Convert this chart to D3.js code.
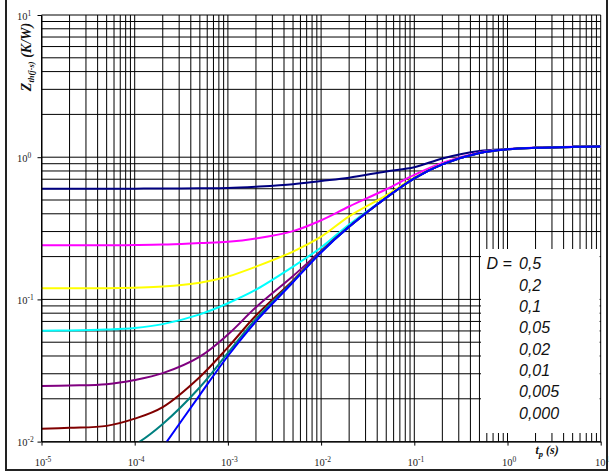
<!DOCTYPE html>
<html>
<head>
<meta charset="utf-8">
<script src="https://cdn.jsdelivr.net/npm/d3@7"></script>
<style>
  html, body { margin: 0; padding: 0; background: #fff; }
  svg { display: block; }
</style>
</head>
<body>
<svg id="chart" width="610" height="473"></svg>
<script>
// Pulse duration t_p (s)
const tp = [1e-5, 2e-5, 5e-5, 1e-4, 2e-4, 5e-4, 1e-3, 2e-3, 5e-3, 1e-2, 2e-2, 5e-2, 0.1, 0.2, 0.5, 1, 2, 5, 10];

// Transient thermal impedance Z_th(j-s) (K/W), one array per duty cycle D
const zD0500 = [0.600, 0.600, 0.600, 0.601, 0.602, 0.604, 0.607, 0.620, 0.645, 0.680, 0.718, 0.794, 0.850, 0.980, 1.105, 1.140, 1.166, 1.182, 1.188];
const zD0200 = [0.240, 0.240, 0.240, 0.241, 0.243, 0.249, 0.254, 0.268, 0.302, 0.360, 0.450, 0.595, 0.750, 0.910, 1.080, 1.138, 1.165, 1.182, 1.188];
const zD0100 = [0.120, 0.120, 0.120, 0.121, 0.123, 0.131, 0.145, 0.170, 0.217, 0.276, 0.384, 0.539, 0.717, 0.893, 1.072, 1.137, 1.165, 1.182, 1.188];
const zD0050 = [0.0603, 0.0605, 0.0614, 0.0630, 0.0670, 0.0785, 0.094, 0.117, 0.170, 0.232, 0.336, 0.521, 0.711, 0.891, 1.071, 1.137, 1.165, 1.182, 1.188];
const zD0020 = [0.0246, 0.0248, 0.0253, 0.0271, 0.0303, 0.0396, 0.0566, 0.088, 0.146, 0.220, 0.327, 0.520, 0.710, 0.890, 1.070, 1.137, 1.165, 1.182, 1.188];
const zD0010 = [0.0123, 0.0125, 0.0129, 0.0145, 0.0175, 0.0285, 0.046, 0.077, 0.136, 0.217, 0.325, 0.519, 0.710, 0.890, 1.070, 1.137, 1.165, 1.182, 1.188];
const zD0005 = [0.0063, 0.0067, 0.0078, 0.0095, 0.0133, 0.0241, 0.042, 0.073, 0.134, 0.216, 0.325, 0.519, 0.710, 0.890, 1.070, 1.137, 1.165, 1.182, 1.188];
const zD0000 = [0.0005, 0.0010, 0.0025, 0.0048, 0.0091, 0.0213, 0.040, 0.070, 0.132, 0.214, 0.324, 0.519, 0.710, 0.890, 1.070, 1.137, 1.165, 1.182, 1.188];

// Duty-cycle legend labels
const dutyLabels = ["0,5", "0,2", "0,1", "0,05", "0,02", "0,01", "0,005", "0,000"];

// Axis ticks (decades)
const xTicks = [1e-5, 1e-4, 1e-3, 1e-2, 1e-1, 1, 10];
const xTickExp = ["-5", "-4", "-3", "-2", "-1", "0", "1"];
const yTicks = [1e-2, 1e-1, 1, 10];
const yTickExp = ["-2", "-1", "0", "1"];

const seriesValues = [zD0500, zD0200, zD0100, zD0050, zD0020, zD0010, zD0005, zD0000];
const seriesColors = ["#000080", "#ff00ff", "#ffff00", "#00ffff", "#800080", "#800000", "#008080", "#0000ff"];

const svg = d3.select("#chart");
const L = 41.5, R = 600.7, T = 15, B = 441.6;

const x = d3.scaleLog().domain([1e-5, 10]).range([L, R]);
const y = d3.scaleLog().domain([0.01, 10]).range([B, T]);

// outer frame
svg.append("rect")
  .attr("x", 6).attr("y", -2).attr("width", 601).attr("height", 472)
  .attr("fill", "none").attr("stroke", "#222").attr("stroke-width", 2);

// log grid (all 1..9 multiples of each decade)
function logGridValues(lo, hi) {
  const out = [];
  for (let e = lo; e < hi; e++) {
    for (let m = 1; m <= 9; m++) out.push(m * Math.pow(10, e));
  }
  out.push(Math.pow(10, hi));
  return out;
}
const grid = svg.append("g").attr("stroke", "#000").attr("stroke-width", 1);
grid.selectAll("line.v").data(logGridValues(-5, 1)).enter().append("line")
  .attr("class", "v")
  .attr("x1", d => x(d)).attr("x2", d => x(d))
  .attr("y1", T).attr("y2", B);
grid.selectAll("line.h").data(logGridValues(-2, 1)).enter().append("line")
  .attr("class", "h")
  .attr("x1", L).attr("x2", R)
  .attr("y1", d => y(d)).attr("y2", d => y(d));

// white panel behind the duty-cycle legend
svg.append("rect")
  .attr("x", 481).attr("y", 249).attr("width", 118.6).attr("height", 184)
  .attr("fill", "#fff");

// curves
svg.append("clipPath").attr("id", "plotClip")
  .append("rect").attr("x", L).attr("y", T).attr("width", R - L).attr("height", B - T);

const line = d3.line()
  .x((d, i) => x(tp[i]))
  .y(d => y(d))
  .curve(d3.curveCatmullRom.alpha(0.5));

const curves = svg.append("g").attr("clip-path", "url(#plotClip)");
seriesValues.forEach((vals, k) => {
  curves.append("path")
    .attr("d", line(vals))
    .attr("fill", "none")
    .attr("stroke", seriesColors[k])
    .attr("stroke-width", 2)
    .attr("stroke-linejoin", "round");
});

// axes
const serif = "'Liberation Serif', 'Times New Roman', serif";
const xAxis = svg.append("g")
  .attr("transform", `translate(0,${B})`)
  .call(d3.axisBottom(x).tickValues(xTicks).tickSize(4).tickSizeOuter(0).tickFormat(""));
const yAxis = svg.append("g")
  .attr("transform", `translate(${L},0)`)
  .call(d3.axisLeft(y).tickValues(yTicks).tickSize(4).tickSizeOuter(0).tickFormat(""));
[xAxis, yAxis].forEach(a => {
  a.select(".domain").attr("stroke", "#000");
  a.selectAll(".tick line").attr("stroke", "#000");
});

// tick labels as powers of ten
const xLab = svg.append("g").attr("font-family", serif).attr("fill", "#222");
xTicks.forEach((v, i) => {
  const t = xLab.append("text")
    .attr("x", x(v) + 1.5).attr("y", 466)
    .attr("text-anchor", "middle").attr("font-size", 10.5);
  t.append("tspan").text("10");
  t.append("tspan").attr("dy", -4).attr("font-size", 7.5).text(xTickExp[i]);
});
const yLab = svg.append("g").attr("font-family", serif).attr("fill", "#222");
yTicks.forEach((v, i) => {
  const t = yLab.append("text")
    .attr("x", 17).attr("y", y(v) + 4.5)
    .attr("font-size", 10.5);
  t.append("tspan").text("10");
  t.append("tspan").attr("dy", -4).attr("font-size", 7.5).text(yTickExp[i]);
});

// axis titles
const xt = svg.append("text")
  .attr("x", 535.5).attr("y", 454)
  .attr("font-family", serif).attr("font-weight", "bold").attr("font-style", "italic")
  .attr("font-size", 12).attr("fill", "#111");
xt.append("tspan").text("t");
xt.append("tspan").attr("dy", 3).attr("font-size", 8.5).text("p");
xt.append("tspan").attr("dy", -3).text(" (s)");

const yt = svg.append("text")
  .attr("transform", "translate(31,57) rotate(-90)")
  .attr("text-anchor", "middle")
  .attr("font-family", serif).attr("font-weight", "bold").attr("font-style", "italic")
  .attr("font-size", 14).attr("fill", "#111");
yt.append("tspan").text("Z");
yt.append("tspan").attr("dy", 3).attr("font-size", 8.5).text("th(j-s)");
yt.append("tspan").attr("dy", -3).text(" (K/W)");

// duty-cycle legend
const leg = svg.append("g")
  .attr("font-family", "'Liberation Sans', Arial, sans-serif")
  .attr("font-style", "italic").attr("font-size", 16).attr("fill", "#111");
leg.append("text").attr("x", 486.5).attr("y", 269.3).text("D =");
dutyLabels.forEach((lab, i) => {
  leg.append("text").attr("x", 519).attr("y", 269.3 + i * 21.33).text(lab);
});
</script>
</body>
</html>
